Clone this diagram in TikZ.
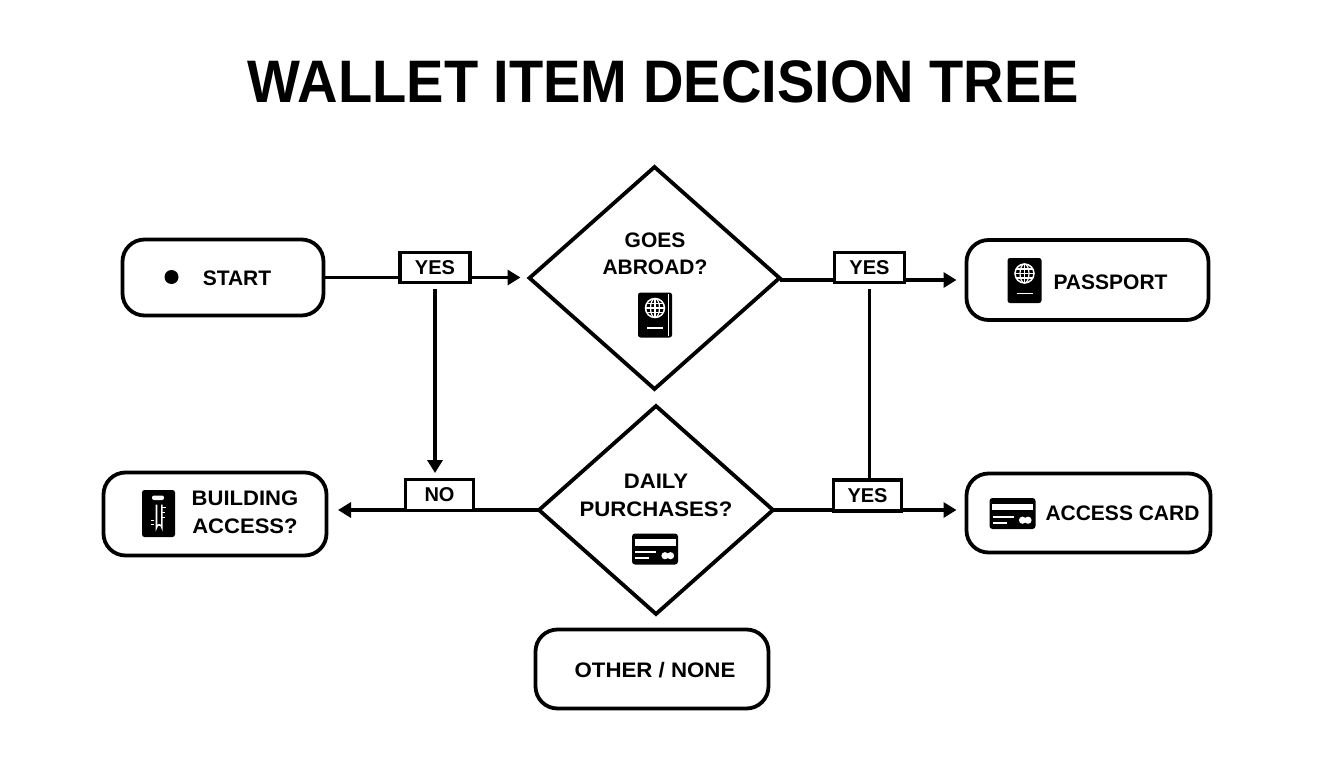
\documentclass[tikz,border=0pt]{standalone}
\usepackage{fontspec}
\setmainfont{Liberation Sans}
\usepackage{tikz}
\usetikzlibrary{arrows.meta,shapes.geometric}
\tikzset{
  outcome/.style={draw, rounded corners=22pt, line width=3.8pt, inner sep=0pt, outer sep=0pt},
  decision/.style={draw, diamond, line width=3.8pt, inner sep=0pt, outer sep=0pt},
  tag/.style={draw, line width=3.8pt, inner sep=0pt, outer sep=0pt, font=\fontsize{20}{20}\selectfont\bfseries},
  label/.style={align=center, inner sep=0pt, font=\fontsize{21}{27.5}\selectfont\bfseries},
  flow/.style={line width=3.6pt, >={Triangle[length=13pt,width=15pt]}},
  pics/passport/.style={code={
    \fill[rounded corners=2.5pt] (-17,-22.5) rectangle (17,22.5);
    \draw[white, line width=1.5pt] (0,-7) circle (9.5);
    \draw[white, line width=1.2pt] (0,-7) ellipse (4.5 and 9.5);
    \draw[white, line width=1.2pt] (0,-16.5) -- (0,2.5);
    \draw[white, line width=1.2pt] (-9.5,-7) -- (9.5,-7);
    \draw[white, line width=1.2pt] (-8.3,-11.5) -- (8.3,-11.5);
    \draw[white, line width=1.2pt] (-8.3,-2.5) -- (8.3,-2.5);
    \draw[white, line width=1.8pt] (-8,13) -- (8,13);
  }},
  pics/card/.style={code={
    \fill[rounded corners=3pt] (-23,-15.5) rectangle (23,15.5);
    \fill[white] (-20.5,-10) rectangle (20.5,-3.3);
    \draw[white, line width=1.8pt] (-20,3.3) -- (1,3.3);
    \draw[white, line width=1.8pt] (-20,9.3) -- (-6,9.3);
    \fill[white] (10,6.7) circle (3.6);
    \fill[white] (15.5,6.7) circle (3.6);
  }},
  pics/key/.style={code={
    \fill[rounded corners=2.5pt] (-16.5,-23.5) rectangle (16.5,23.5);
    \fill[white, rounded corners=2pt] (-6.5,-18) rectangle (5.5,-13.5);
    \draw[white, line width=1.6pt] (-2,-9) -- (-2,14) arc[start angle=180, end angle=360, radius=2.7] -- (3.4,-9);
    \draw[white, line width=1.6pt] (3.4,-6) -- (7,-6) (3.4,-1) -- (6,-1) (3.4,4) -- (6,4);
    \draw[white, line width=1.6pt] (-8,7) -- (-5,7) (-8,11) -- (-5,11);
  }}
}
\begin{document}
\begin{tikzpicture}[x=1pt,y=-1pt]
          \useasboundingbox (0,0) rectangle (1344,768);

          \node[font=\fontsize{60}{60}\selectfont\bfseries, xscale=0.934] (Title) at (663.5,82) {WALLET ITEM DECISION TREE};

          \node[outcome, minimum width=201pt, minimum height=76pt] (Start) at (223,277.5) {};
          \node[outcome, minimum width=242pt, minimum height=80pt] (Passport) at (1087.5,280) {};
          \node[outcome, minimum width=223pt, minimum height=83pt] (Building) at (215,514) {};
          \node[outcome, minimum width=244pt, minimum height=79pt] (Card) at (1088.5,513) {};
          \node[outcome, minimum width=233pt, minimum height=79pt] (Other) at (652,669) {};

          \node[decision, minimum width=250pt, minimum height=222pt] (Abroad) at (654.5,278) {};
          \node[decision, minimum width=234pt, minimum height=208pt] (Purchases) at (656,510) {};

          \node[tag, minimum width=70pt, minimum height=30pt] (TagStart) at (435,267.5) {YES};
          \node[tag, minimum width=70pt, minimum height=30pt] (TagAbroad) at (869.5,267.5) {YES};
          \node[tag, minimum width=68pt, minimum height=31pt] (TagNo) at (439.5,495) {NO};
          \node[tag, minimum width=68pt, minimum height=31pt] (TagPurchases) at (867.5,495.5) {YES};

          \node[circle, fill, inner sep=0pt, minimum size=14pt] (StartDot) at (171.5,277) {};
          \node[label] (StartText) at (237,278) {START};
          \node[label] (AbroadText) at (655,254) {GOES\\ABROAD?};
          \node[label, xscale=1.055] (PurchasesText) at (656,495.5) {DAILY\\PURCHASES?};
          \node[label] (PassportText) at (1110.5,282) {PASSPORT};
          \node[label, xscale=1.05] (BuildingText) at (245,512.5) {BUILDING\\ACCESS?};
          \node[label] (CardText) at (1122.5,513.5) {ACCESS CARD};
          \node[label, xscale=1.06] (OtherText) at (655,670) {OTHER / NONE};

          \pic at (655,315) {passport};
          \draw[white, line width=1.2pt] (668.5,294) -- (668.5,336);
          \pic at (1024.5,280.5) {passport};
          \pic at (158.5,513.5) {key};
          \pic at (1012.5,513.5) {card};
          \pic at (655,549) {card};

          \draw[flow] (Start.east) -- (Start.east -| TagStart.west);
          \draw[flow,->,shorten >=9pt] (TagStart.east |- Start.east) -- (Start.east -| Abroad.west);
          \draw[flow,->,shorten <=6.5pt,shorten >=6.5pt] (TagStart.south) -- (TagStart.south |- TagNo.north);
          \draw[flow] (Abroad.east |- Passport.west) -- (TagAbroad.west |- Passport.west);
          \draw[flow,->,shorten >=10pt] (TagAbroad.east |- Passport.west) -- (Passport.west);
          \draw[flow,shorten <=6.5pt] (TagAbroad.south) -- (TagAbroad.south |- TagPurchases.north);
          \draw[flow] (Purchases.west) -- (Purchases.west -| TagNo.east);
          \draw[flow,->,shorten >=11.5pt] (TagNo.west |- Purchases.west) -- (Purchases.west -| Building.east);
          \draw[flow] (Purchases.east) -- (Purchases.east -| TagPurchases.west);
          \draw[flow,->,shorten >=10pt] (TagPurchases.east |- Purchases.east) -- (Purchases.east -| Card.west);
        \end{tikzpicture}
\end{document}
